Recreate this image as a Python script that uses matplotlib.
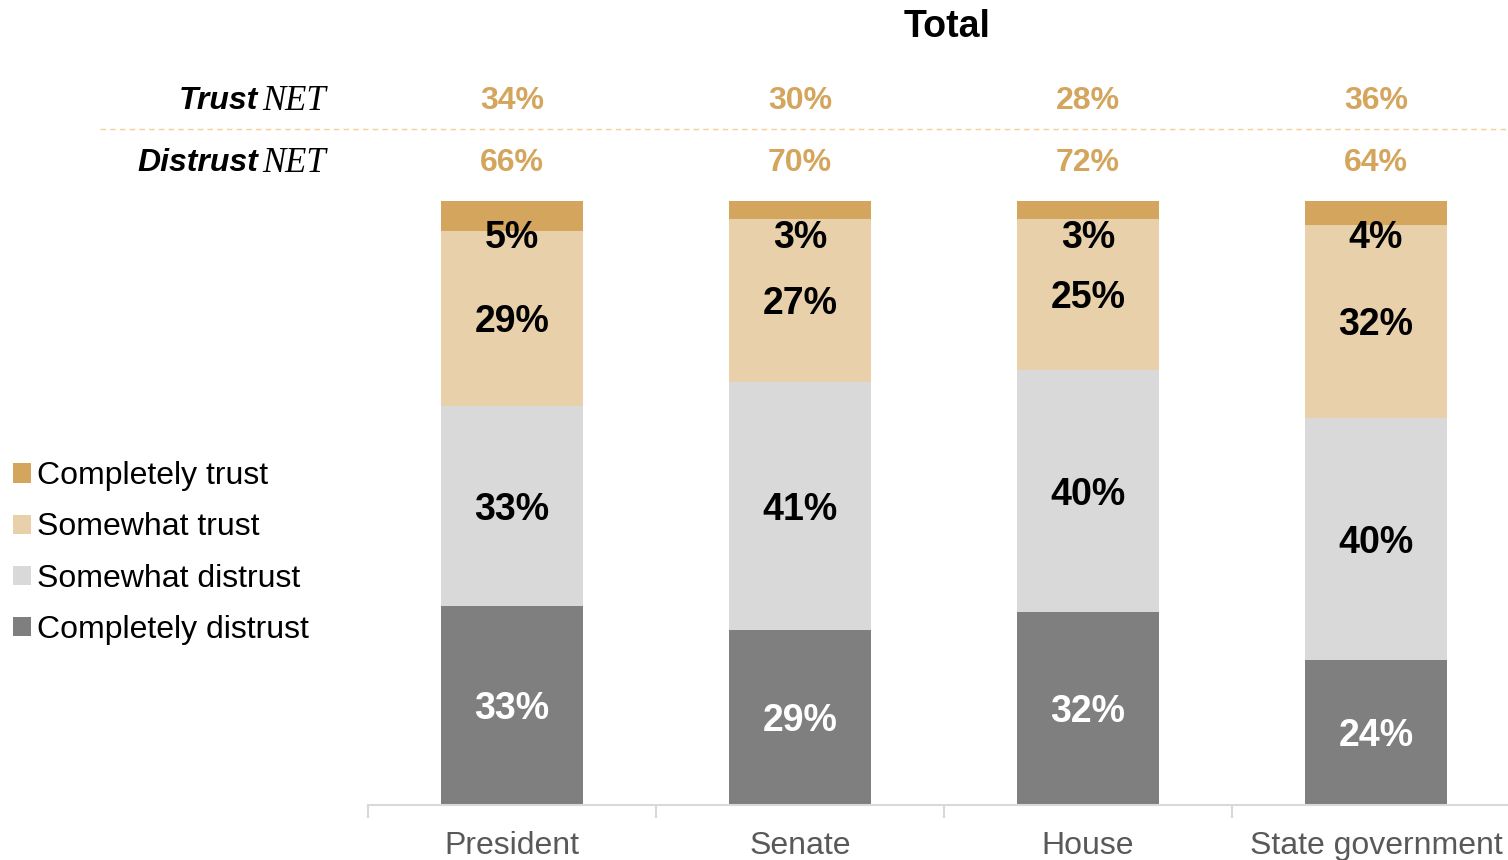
import matplotlib.pyplot as plt
import numpy as np

categories = ["President", "Senate", "House", "State government"]
series_names = ["Completely distrust", "Somewhat distrust", "Somewhat trust", "Completely trust"]
completely_distrust = [33, 29, 32, 24]
somewhat_distrust = [33, 41, 40, 40]
somewhat_trust = [29, 27, 25, 32]
completely_trust = [5, 3, 3, 4]
trust_net = ["34%", "30%", "28%", "36%"]
distrust_net = ["66%", "70%", "72%", "64%"]

colors = ["#7f7f7f", "#d9d9d9", "#e8d0aa", "#d4a55c"]
label_colors = ["white", "black", "black", "black"]
tan = "#d4a55c"
sans = "Liberation Sans"

fig = plt.figure(figsize=(15.08, 8.6), dpi=100)
ax = fig.add_axes([368 / 1508, 55 / 860, 1152 / 1508, 604 / 860])

x = np.arange(len(categories))
values = [completely_distrust, somewhat_distrust, somewhat_trust, completely_trust]
bottom = np.zeros(len(categories))
for i, vals in enumerate(values):
    vals = np.array(vals)
    ax.bar(x, vals, bottom=bottom, width=0.495, color=colors[i], label=series_names[i])
    for j in range(len(categories)):
        if i == 3:
            # small top segment: label sits just under it
            ypos = bottom[j] + vals[j] - 6.2
        else:
            ypos = bottom[j] + vals[j] / 2 - 0.6
        ax.text(x[j], ypos, f"{vals[j]}%", ha="center", va="center",
                fontsize=27, fontweight="bold", color=label_colors[i], family=sans)
    bottom += vals

ax.set_xlim(-0.5, 3.5)
ax.set_ylim(0, 100)
for s in ["top", "right", "left"]:
    ax.spines[s].set_visible(False)
ax.spines["bottom"].set_color("#d9d9d9")
ax.spines["bottom"].set_linewidth(1.5)
ax.set_yticks([])
ax.set_xticks(np.arange(-0.5, 4, 1))
ax.set_xticklabels([])
ax.tick_params(axis="x", length=9, color="#d9d9d9", width=1.5)
for j, c in enumerate(categories):
    ax.text(x[j], -6.8, c, ha="center", va="center", fontsize=23, color="#595959", family=sans)


def fx(px):
    return px / 1508


def fy(py):
    return 1 - py / 860


# header rows
fig.text(fx(947), fy(27), "Total", ha="center", va="center", fontsize=27,
         fontweight="bold", family=sans)
for j in range(len(categories)):
    xf = ax.transData.transform((x[j], 0))[0] / fig.bbox.width
    fig.text(xf, fy(101), trust_net[j], ha="center", va="center", fontsize=23,
             fontweight="bold", color=tan, family=sans)
    fig.text(xf, fy(163), distrust_net[j], ha="center", va="center", fontsize=23,
             fontweight="bold", color=tan, family=sans)

fig.text(fx(258), fy(101), "Trust", ha="right", va="center", fontsize=23,
         fontweight="bold", style="italic", family=sans)
fig.text(fx(262), fy(101), "NET", ha="left", va="center", fontsize=25,
         style="italic", family="Liberation Serif")
fig.text(fx(258), fy(163), "Distrust", ha="right", va="center", fontsize=23,
         fontweight="bold", style="italic", family=sans)
fig.text(fx(262), fy(163), "NET", ha="left", va="center", fontsize=25,
         style="italic", family="Liberation Serif")

fig.add_artist(plt.Line2D([fx(100), 1.0], [fy(129), fy(129)], color="#f5cf99",
                          linestyle=(0, (4, 3)), linewidth=1))

# legend on the left
handles, labels = ax.get_legend_handles_labels()
fig.legend(handles[::-1], labels[::-1], loc="center left",
           bbox_to_anchor=(fx(13), fy(553)), frameon=False, prop={"family": sans, "size": 23},
           handlelength=0.55, handleheight=0.55, handletextpad=0.2, labelspacing=0.66,
           borderaxespad=0, borderpad=0)

fig.savefig("out.png", dpi=100)
